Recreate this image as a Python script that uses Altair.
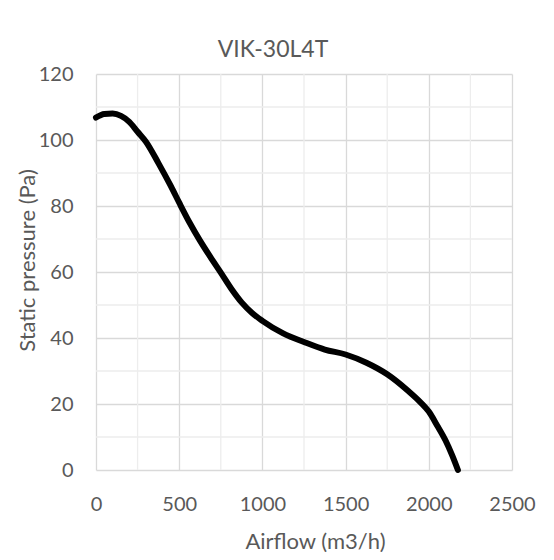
import altair as alt
import pandas as pd

# Fan curve values
airflow = [0, 50, 100, 150, 200, 250, 300, 375, 450, 500, 562, 625, 688, 750, 812,
           875, 938, 1000, 1125, 1250, 1375, 1500, 1625, 1750, 1875, 1950, 2000,
           2050, 2100, 2140, 2175]
pressure = [106.8, 107.9, 108.0, 107.3, 105.5, 102.5, 99.5, 93.0, 86.0, 81.0, 75.0,
            69.5, 64.5, 59.8, 55.0, 50.8, 47.6, 45.2, 41.4, 38.8, 36.5, 35.0, 32.5,
            29.0, 24.0, 20.5, 17.7, 13.5, 9.0, 4.5, 0.0]

x_major = [0, 500, 1000, 1500, 2000, 2500]
y_major = [0, 20, 40, 60, 80, 100, 120]
x_minor = [250, 750, 1250, 1750, 2250]
y_minor = [10, 30, 50, 70, 90, 110]

chart_title = "VIK-30L4T"
x_title = "Airflow (m3/h)"
y_title = "Static pressure (Pa)"

FONT = "Lato"
TXT = "#595959"

curve = pd.DataFrame({"airflow": airflow, "pressure": pressure})
vminor = pd.DataFrame({"airflow": x_minor})
hminor = pd.DataFrame({"pressure": y_minor})

xscale = alt.Scale(domain=[0, 2500], nice=False, zero=False)
yscale = alt.Scale(domain=[0, 120], nice=False, zero=False)

x_axis = alt.Axis(values=x_major, format="d", grid=True, gridColor="#D9D9D9", gridWidth=1.3,
                  domain=False, ticks=False, tickSize=0, labelPadding=24, labelFlush=False,
                  labelFont=FONT, labelFontSize=20, labelColor=TXT,
                  title=x_title, titleFont=FONT, titleFontSize=22, titleColor=TXT,
                  titleFontWeight="normal", titleX=219, titleY=78,
                  titleAlign="center", titleBaseline="alphabetic")
y_axis = alt.Axis(values=y_major, format="d", grid=True, gridColor="#D9D9D9", gridWidth=1.3,
                  domain=False, ticks=False, tickSize=0, labelPadding=23, labelFlush=False,
                  labelFont=FONT, labelFontSize=20, labelColor=TXT,
                  title=y_title, titleFont=FONT, titleFontSize=22, titleColor=TXT,
                  titleFontWeight="normal", titleX=-69, titleY=186, titleAngle=270,
                  titleAlign="center", titleBaseline="middle")

vrules = alt.Chart(vminor).mark_rule(color="#EDEDED", strokeWidth=1.3).encode(
    x=alt.X("airflow:Q", scale=xscale, axis=x_axis)
)
hrules = alt.Chart(hminor).mark_rule(color="#EDEDED", strokeWidth=1.3).encode(
    y=alt.Y("pressure:Q", scale=yscale, axis=y_axis)
)
line = alt.Chart(curve).mark_line(color="black", strokeWidth=6, strokeCap="round",
                                  strokeJoin="round", interpolate="monotone").encode(
    x=alt.X("airflow:Q", scale=xscale, axis=x_axis),
    y=alt.Y("pressure:Q", scale=yscale, axis=y_axis),
)

chart = alt.layer(vrules, hrules, line).properties(
    width=416,
    height=396,
    title=alt.TitleParams(chart_title, font=FONT, fontSize=23, color=TXT,
                          fontWeight="normal", anchor="middle", dx=-31, dy=35,
                          frame="group", offset=14, baseline="bottom"),
    autosize=alt.AutoSizeParams(type="none"),
    padding={"left": 88, "top": 66, "right": 34, "bottom": 82},
    background="white",
).configure_view(stroke=None)

chart.save("out.html", embed_options={"renderer": "svg", "actions": False})
